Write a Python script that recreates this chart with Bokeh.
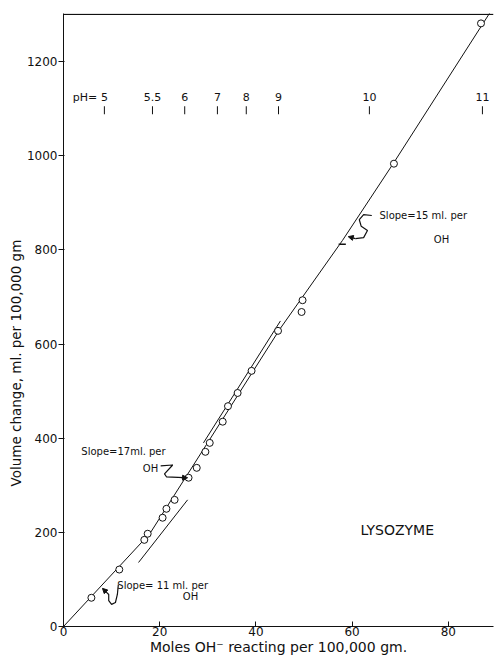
from bokeh.plotting import figure
from bokeh.models import Span, Title, Arrow, NormalHead, FixedTicker, Range1d
from bokeh.core.properties import value
from bokeh.embed import file_html
from bokeh.resources import INLINE

# ---- data ----
vol_x = [5.8, 11.6, 16.8, 17.5, 20.6, 21.4, 23.1, 26.0, 27.7, 29.5, 30.4,
         33.1, 34.2, 36.2, 39.1, 44.6, 49.5, 49.7, 68.7, 86.8]
vol_y = [61, 121, 184, 197, 231, 250, 269, 316, 337, 371, 390,
         435, 468, 496, 543, 628, 668, 693, 983, 1281]

fit_x = [0, 18, 45, 58, 68.6, 88.8]
fit_y = [0, 198, 632, 820, 984, 1306]

tan1_x = [15.6, 25.8]
tan1_y = [136, 269]
tan2_x = [29.1, 45.1]
tan2_y = [390, 649]

ph_labels = ["5", "5.5", "6", "7", "8", "9", "10", "11"]
ph_x = [8.5, 18.5, 25.2, 32.0, 38.0, 44.7, 63.6, 87.1]

x_ticks = [0, 20, 40, 60, 80]
y_ticks = [0, 200, 400, 600, 800, 1000, 1200]

FONT = "DejaVu Sans"
INK = "#111111"

p = figure(width=497, height=657,
           x_range=Range1d(0, 89.4), y_range=Range1d(0, 1302),
           output_backend="svg", toolbar_location=None,
           min_border_left=63, min_border_right=4,
           min_border_top=13, min_border_bottom=30)
p.outline_line_color = None
p.grid.visible = False

# axes
xa = p.xaxis[0]
xa.ticker = FixedTicker(ticks=x_ticks)
xa.axis_label = "Moles OH\u207b reacting per 100,000 gm."
xa.axis_label_text_font = FONT
xa.axis_label_text_font_style = "normal"
xa.axis_label_text_font_size = "14px"
xa.axis_label_text_color = INK
xa.axis_label_standoff = 0
xa.major_label_text_font = FONT
xa.major_label_text_font_size = "12px"
xa.major_label_text_color = INK
xa.major_label_standoff = 0
xa.major_tick_in = 5
xa.major_tick_out = 0
xa.minor_tick_in = 0
xa.minor_tick_out = 0
xa.axis_line_color = INK
xa.major_tick_line_color = INK

ya = p.yaxis[0]
ya.ticker = FixedTicker(ticks=y_ticks)
ya.major_label_text_font = FONT
ya.major_label_text_font_size = "12px"
ya.major_label_text_color = INK
ya.major_label_standoff = 1
ya.major_tick_in = 1
ya.major_tick_out = 5
ya.minor_tick_in = 0
ya.minor_tick_out = 0
ya.axis_line_color = INK
ya.major_tick_line_color = INK

# y axis title, placed lower than centre as in the reference
p.add_layout(Title(text="Volume change, ml. per 100,000 gm", align="left",
                   offset=140, standoff=0, text_font=FONT, text_font_size="13.5px",
                   text_font_style="normal", text_color=INK), "left")

# top border
p.add_layout(Span(location=1300, dimension="width", line_color=INK, line_width=1.2))

# fitted line and tangents
p.line(fit_x, fit_y, line_color=INK, line_width=1)
p.line(tan1_x, tan1_y, line_color=INK, line_width=1)
p.line(tan2_x, tan2_y, line_color=INK, line_width=1)
p.segment(x0=[57.2], y0=[812], x1=[58.7], y1=[812], line_color=INK, line_width=1.5)

# data points
p.scatter(vol_x, vol_y, size=7, marker="circle", fill_color="white",
          line_color=INK, line_width=1)

# pH scale
p.text(x=ph_x, y=[1124] * len(ph_x), text=ph_labels,
       text_font=value(FONT), text_font_size="11px", text_color=INK,
       text_align="center", text_baseline="middle")
p.text(x=[7.0], y=[1124], text=["pH="], text_font=value(FONT),
       text_font_size="11px", text_color=INK,
       text_align="right", text_baseline="middle")
p.segment(x0=ph_x, y0=[1088] * len(ph_x), x1=ph_x, y1=[1105] * len(ph_x),
          line_color=INK, line_width=1)

# slope annotations
def note(x, y, t, align="left", size="10px"):
    p.text(x=[x], y=[y], text=[t], text_font=value(FONT), text_font_size=size,
           text_color=INK, text_align=align, text_baseline="middle")

note(11.2, 87, "Slope= 11 ml. per")
note(26.4, 64, "OH", align="center")
note(3.7, 371, "Slope=17ml. per")
note(18.1, 335, "OH", align="center")
note(65.7, 873, "Slope=15 ml. per")
note(78.6, 823, "OH", align="center")
note(69.4, 206, "LYSOZYME", align="center", size="14px")

# squiggly arrows
p.line([11.4, 11.2, 10.8, 10.0, 9.4, 9.4, 8.8], [89, 68, 51, 47, 55, 68, 74],
       line_color=INK, line_width=1.2)
p.add_layout(Arrow(end=NormalHead(size=5, fill_color=INK, line_color=INK),
                   x_start=8.8, y_start=74, x_end=8.1, y_end=81,
                   line_color=INK, line_width=1.2))
p.line([20.2, 22.7, 21.0, 21.4, 25.0], [341, 343, 324, 318, 316],
       line_color=INK, line_width=1.2)
p.add_layout(Arrow(end=NormalHead(size=5, fill_color=INK, line_color=INK),
                   x_start=24.5, y_start=316, x_end=25.8, y_end=316,
                   line_color=INK, line_width=1.2))
p.line([64.1, 62.4, 61.5, 61.9, 63.2, 62.4, 60.7],
       [873, 875, 864, 850, 841, 826, 824],
       line_color=INK, line_width=1.2)
p.add_layout(Arrow(end=NormalHead(size=5, fill_color=INK, line_color=INK),
                   x_start=60.7, y_start=824, x_end=59.2, y_end=828,
                   line_color=INK, line_width=1.2))

open("out.html", "w").write(file_html(p, INLINE))
